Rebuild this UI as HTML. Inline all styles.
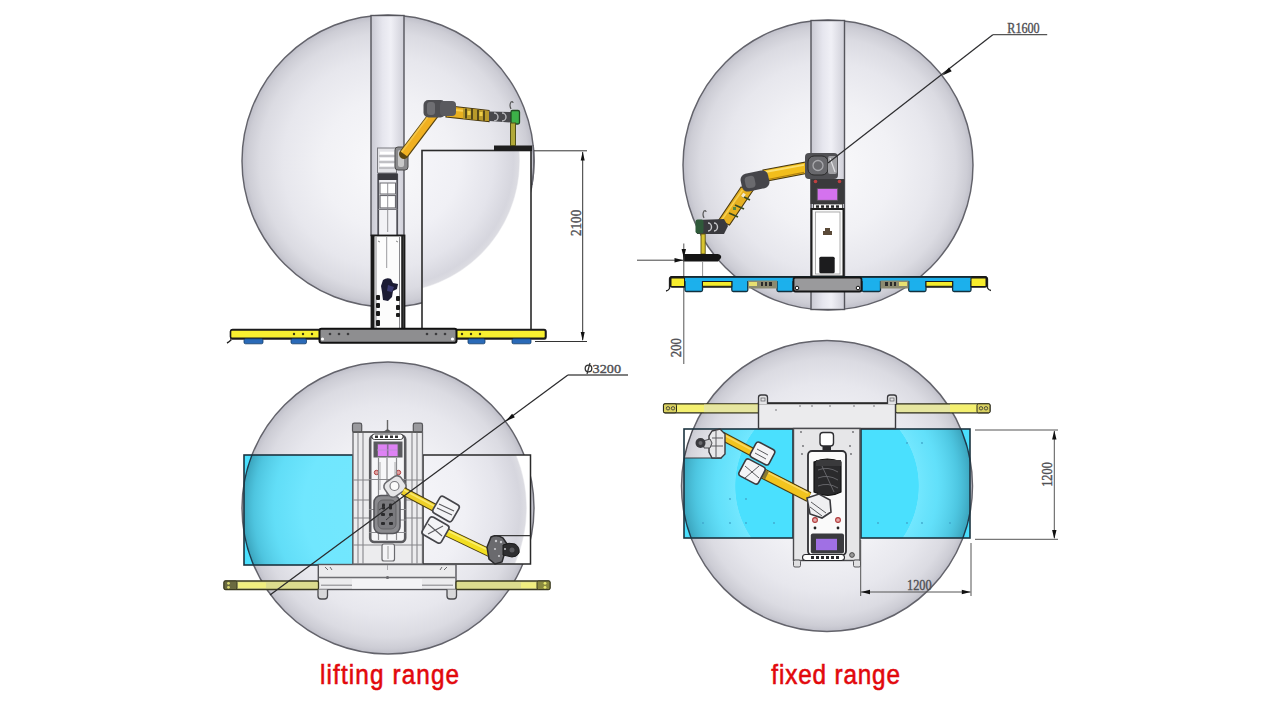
<!DOCTYPE html>
<html><head><meta charset="utf-8"><title>Robot working range</title>
<style>
html,body{margin:0;padding:0;background:#fff;width:1280px;height:720px;overflow:hidden;}
svg{display:block;position:absolute;left:0;top:0;}
.lbl{font-family:"Liberation Sans",sans-serif;fill:#e2080c;stroke:#e2080c;stroke-width:0.6px;font-size:27px;}
.dim{font-family:"Liberation Serif",serif;fill:#505054;stroke:#505054;stroke-width:0.4px;font-size:12px;}
</style></head>
<body>
<svg width="1280" height="720" viewBox="0 0 1280 720">
<defs>
  <radialGradient id="sph" cx="0.5" cy="0.5" r="0.5" fx="0.5" fy="0.52">
    <stop offset="0" stop-color="#f9f9fb"/>
    <stop offset="0.45" stop-color="#f1f1f5"/>
    <stop offset="0.72" stop-color="#e7e7ed"/>
    <stop offset="0.88" stop-color="#dbdbe2"/>
    <stop offset="0.96" stop-color="#cdcdd5"/>
    <stop offset="1" stop-color="#bfbfc9"/>
  </radialGradient>
  <radialGradient id="shellA" cx="0.5" cy="0.5" r="0.5">
    <stop offset="0" stop-color="#fff" stop-opacity="0.24"/>
    <stop offset="0.58" stop-color="#fff" stop-opacity="0.21"/>
    <stop offset="0.78" stop-color="#c0d4dc" stop-opacity="0.2"/>
    <stop offset="0.92" stop-color="#5a7888" stop-opacity="0.26"/>
    <stop offset="1" stop-color="#1a3444" stop-opacity="0.36"/>
  </radialGradient>
  <radialGradient id="shellB" cx="0.5" cy="0.5" r="0.5">
    <stop offset="0.628" stop-color="#fff" stop-opacity="0"/>
    <stop offset="0.632" stop-color="#fff" stop-opacity="0.22"/>
    <stop offset="0.76" stop-color="#d0e0e8" stop-opacity="0.18"/>
    <stop offset="0.9" stop-color="#5a7888" stop-opacity="0.24"/>
    <stop offset="1" stop-color="#1a3444" stop-opacity="0.36"/>
  </radialGradient>
  <radialGradient id="sphIn" cx="0.5" cy="0.5" r="0.5">
    <stop offset="0" stop-color="#f8f8fb"/>
    <stop offset="0.55" stop-color="#f0f0f5"/>
    <stop offset="0.8" stop-color="#e4e4eb"/>
    <stop offset="0.95" stop-color="#d6d6de"/>
    <stop offset="0.99" stop-color="#dcdce2"/>
    <stop offset="1" stop-color="#f4f4f6"/>
  </radialGradient>
  <clipPath id="cTLt"><rect x="422" y="150.5" width="109" height="180"/></clipPath>
  <clipPath id="cTLt2"><rect x="522" y="145" width="15" height="40"/></clipPath>
  <clipPath id="cBLt"><rect x="423" y="455" width="107.5" height="109"/></clipPath>
  <clipPath id="cNotch"><path d="M684 429 H721 V458 H684Z"/></clipPath>
  <clipPath id="cBL"><rect x="244" y="455" width="109" height="110"/></clipPath>
  <clipPath id="cBR"><rect x="684" y="429" width="109" height="109"/><rect x="861" y="429" width="109" height="109"/></clipPath>
  <linearGradient id="pil" x1="0" x2="1" y1="0" y2="0">
    <stop offset="0" stop-color="#c9c9d2"/>
    <stop offset="0.35" stop-color="#e6e6ee"/>
    <stop offset="0.6" stop-color="#f0f0f6"/>
    <stop offset="1" stop-color="#cfcfd8"/>
  </linearGradient>
  <linearGradient id="yel" x1="0" x2="0" y1="0" y2="1">
    <stop offset="0" stop-color="#f6ec3a"/>
    <stop offset="1" stop-color="#f2e62a"/>
  </linearGradient>
  <linearGradient id="arm" x1="0" x2="0" y1="0" y2="1">
    <stop offset="0" stop-color="#f4c430"/>
    <stop offset="0.5" stop-color="#f0b820"/>
    <stop offset="1" stop-color="#c08a10"/>
  </linearGradient>
</defs>

<!-- ================= TOP LEFT ================= -->
<g id="tl">
  <circle cx="388" cy="161" r="146" fill="url(#sph)" stroke="#63636b" stroke-width="1.45"/>
  <!-- pillar -->
  <rect x="371" y="15.5" width="33" height="220" fill="url(#pil)" stroke="#55555c" stroke-width="1.4"/>
  <!-- lift frame inside pillar -->
  <rect x="378" y="180" width="19.5" height="55" fill="#f2f2f6"/>
  <line x1="378.2" y1="174" x2="378.2" y2="235" stroke="#505058" stroke-width="1.8"/>
  <line x1="397.2" y1="174" x2="397.2" y2="235" stroke="#505058" stroke-width="1.8"/>
  <line x1="378" y1="209.5" x2="397.5" y2="209.5" stroke="#7a7a80" stroke-width="1"/>
  <rect x="378" y="173" width="19.5" height="7" fill="#3a3a40"/>
  <rect x="380" y="183" width="15.5" height="11" fill="#fff" stroke="#6a6a70" stroke-width="1"/>
  <rect x="380" y="195.5" width="15.5" height="12.5" fill="#fff" stroke="#6a6a70" stroke-width="1.2"/>
  <line x1="387.7" y1="183" x2="387.7" y2="232" stroke="#8a8a90" stroke-width="0.9"/>
  <!-- table -->
  <rect x="422" y="150.5" width="109" height="180" fill="#fff"/>
  <circle cx="388" cy="161" r="132" fill="url(#sphIn)" clip-path="url(#cTLt)"/>
  <circle cx="388" cy="161" r="146" fill="none" stroke="#63636b" stroke-width="1.45" clip-path="url(#cTLt2)"/>
  <rect x="422" y="150.5" width="109" height="180" fill="none" stroke="#2a2a2a" stroke-width="1.6"/>
  <rect x="494" y="145.5" width="38" height="5.5" fill="#1e1e1e"/>
  <!-- lower lift box -->
  <rect x="371.5" y="235.5" width="33" height="94" fill="#fcfcfc" stroke="#1a1a1a" stroke-width="1.8"/>
  <line x1="373" y1="236" x2="373" y2="329" stroke="#1a1a1a" stroke-width="3"/>
  <line x1="402.5" y1="236" x2="402.5" y2="329" stroke="#222" stroke-width="2.6"/>
  <line x1="376" y1="237" x2="376" y2="328" stroke="#8a8a8e" stroke-width="1"/>
  <line x1="399.5" y1="237" x2="399.5" y2="328" stroke="#8a8a8e" stroke-width="1"/>
  <line x1="386.7" y1="237" x2="386.7" y2="268" stroke="#9a9a9e" stroke-width="1"/>
  <path d="M378 241 l2 1 M396 241 l2 1" stroke="#888" stroke-width="1"/>
  <path d="M383 280 q4 -3 8 -1 l2 4 l5 1 l-1 5 l-4 2 l-1 6 l-4 4 l-5 -1 l-1 -8 l-1 -6z" fill="#1c1c34"/>
  <path d="M388 285 l6 2 l-2 5 l-5 -1z" fill="#3a3a70"/>
  <g fill="#1a1a1a"><rect x="376" y="295" width="4" height="5" rx="1"/><rect x="376" y="303" width="4" height="5" rx="1"/><rect x="376" y="311" width="4" height="5" rx="1"/><rect x="376" y="320" width="4" height="6" rx="1"/>
  <rect x="396" y="296" width="4" height="5" rx="1"/><rect x="396" y="305" width="4" height="5" rx="1"/><rect x="396" y="313" width="4" height="4" rx="1"/></g>
  <!-- robot base on lift -->
  <rect x="377.5" y="148" width="19" height="25" fill="#e4e4e8" stroke="#7a7a80" stroke-width="1"/>
  <g stroke="#fff" stroke-width="2.6"><line x1="380" y1="153" x2="394" y2="153"/><line x1="380" y1="159" x2="394" y2="159"/><line x1="380" y1="165" x2="394" y2="165"/></g>
  <g stroke="#8a8a90" stroke-width="0.8"><line x1="379" y1="156" x2="395" y2="156"/><line x1="379" y1="162" x2="395" y2="162"/><line x1="379" y1="168" x2="395" y2="168"/></g>
  <!-- robot arm TL -->
  <rect x="395" y="147" width="13" height="23" rx="3" fill="#8a8a8c" stroke="#4a4a4a" stroke-width="1"/>
  <rect x="398" y="150" width="6" height="17" rx="2" fill="#c8c8c8"/>
  <line x1="404" y1="154" x2="435" y2="113" stroke="#5a4510" stroke-width="10" stroke-linecap="round"/>
  <line x1="404" y1="154" x2="435" y2="113" stroke="#f0b020" stroke-width="7.6"/>
  <line x1="401.5" y1="152" x2="431.5" y2="112" stroke="#f8cc50" stroke-width="2" opacity="0.8"/>
  <path d="M446 105.5 L489 110.5 L489 121.5 L446 117Z" fill="#e8b020" stroke="#4a3a10" stroke-width="1.2"/>
  <line x1="446" y1="109" x2="470" y2="111.5" stroke="#fad050" stroke-width="2"/>
  <path d="M463 108 L489 111 L489 121 L463 118.5Z" fill="#b89a2a"/>
  <g stroke="#4a4018" stroke-width="1.8"><line x1="466" y1="108.5" x2="466" y2="118.5"/><line x1="472" y1="109" x2="472" y2="119.5"/><line x1="478" y1="109.8" x2="478" y2="120"/><line x1="484" y1="110.5" x2="484" y2="120.8"/></g>
  <g fill="#f0d048"><rect x="467.5" y="111" width="3" height="4"/><rect x="479.5" y="112" width="3" height="4"/></g>
  <rect x="423.5" y="100" width="22" height="17.5" rx="5" fill="#4e4e52"/>
  <rect x="427" y="102" width="8" height="13" rx="3" fill="#6e6e72"/>
  <rect x="440" y="101" width="16" height="15" rx="4" fill="#5a5a5e"/>
  <path d="M489 111.5 L511 112 L511 122.5 L489 121Z" fill="#48484c"/>
  <path d="M494 113 a4 4 0 0 1 0 8 M502 113 a4 4 0 0 1 0 8" fill="none" stroke="#b8b8bc" stroke-width="1.4"/>
  <rect x="511" y="110.5" width="8.5" height="13.5" rx="1.5" fill="#3cb048" stroke="#234a23" stroke-width="1.3"/>
  <rect x="510.5" y="123" width="5" height="22.5" fill="#b0a838" stroke="#505018" stroke-width="1"/>
  <path d="M511 109 q-2 -4 0 -7 q2 -1 2 1" fill="none" stroke="#555" stroke-width="1.2"/>
  <!-- platform -->
  <path d="M227 343 q2 -1 4 -3 l0 -9 q0 -1.5 1.5 -1.5 L544 329.5 q2 0 2 2 l0 6 q0 1.5 -1.5 1.5 L232 339" fill="none" stroke="#222" stroke-width="1.4"/>
  <rect x="230.5" y="330" width="315" height="8.2" rx="1.5" fill="#f8f030" stroke="#1a1a1a" stroke-width="1.6"/>
  <g fill="#2a6ab8" stroke="#153c66" stroke-width="0.8">
    <rect x="244" y="338.8" width="19" height="5" rx="1.5"/><rect x="291" y="338.8" width="15.5" height="5" rx="1.5"/>
    <rect x="468" y="338.8" width="17" height="5" rx="1.5"/><rect x="512" y="338.8" width="19" height="5" rx="1.5"/>
  </g>
  <g fill="#3a3a10"><circle cx="294" cy="334" r="1.2"/><circle cx="303" cy="334" r="1.2"/><circle cx="312" cy="334" r="1.2"/><circle cx="462" cy="334" r="1.2"/><circle cx="471" cy="334" r="1.2"/><circle cx="480" cy="334" r="1.2"/></g>
  <rect x="319.5" y="328.8" width="137" height="14" rx="2" fill="#8e8e90" stroke="#111" stroke-width="2"/>
  <g fill="#3c3c3e"><circle cx="330" cy="334" r="1.3"/><circle cx="339" cy="334" r="1.3"/><circle cx="348" cy="334" r="1.3"/><circle cx="427" cy="334" r="1.3"/><circle cx="436" cy="334" r="1.3"/><circle cx="445" cy="334" r="1.3"/></g>
  <circle cx="322.5" cy="339" r="1.6" fill="#fff"/><circle cx="452.5" cy="339" r="1.6" fill="#fff"/>
  <!-- dimension 2100 -->
  <g stroke="#333" stroke-width="1">
    <line x1="534" y1="150.8" x2="587" y2="150.8"/>
    <line x1="535" y1="341.5" x2="587" y2="341.5"/>
    <line x1="582.7" y1="152" x2="582.7" y2="340"/>
  </g>
  <path d="M582.7 151.5 l-2 9 l4 0z M582.7 341 l-2 -9 l4 0z" fill="#111"/>
  <text class="dim" transform="translate(580.6 236) rotate(-90)" style="font-size:15px" textLength="26.2" lengthAdjust="spacingAndGlyphs">2100</text>
</g>

<!-- ================= TOP RIGHT ================= -->
<g id="tr">
  <circle cx="828" cy="165" r="145" fill="url(#sph)" stroke="#63636b" stroke-width="1.45"/>
  <rect x="811" y="20.5" width="33.5" height="289" fill="url(#pil)" stroke="#55555c" stroke-width="1.4"/>
  <!-- cabinet -->
  <rect x="810.5" y="179" width="34" height="25" fill="#3a3a3c"/>
  <circle cx="815.5" cy="181.5" r="1.8" fill="#c04040"/><circle cx="839.5" cy="181.5" r="1.8" fill="#c04040"/>
  <rect x="817.2" y="188.6" width="20.5" height="11.7" fill="#d472ee" stroke="#555" stroke-width="0.8"/>
  <rect x="813.4" y="204" width="29" height="5" fill="#f4f4f4" stroke="#333" stroke-width="0.8"/>
  <g fill="#2a2a2a"><rect x="816" y="205.3" width="3" height="2.5"/><rect x="821" y="205.3" width="3" height="2.5"/><rect x="826" y="205.3" width="3" height="2.5"/><rect x="831" y="205.3" width="3" height="2.5"/><rect x="836" y="205.3" width="3" height="2.5"/></g>
  <rect x="811.5" y="209" width="32" height="67.5" fill="#f8f8f8" stroke="#1e1e1e" stroke-width="2"/>
  <rect x="815.5" y="212" width="24.5" height="62" fill="#fff" stroke="#9a9a9a" stroke-width="0.8"/>
  <path d="M825 228 h5 v3 h2 v4 h-9 v-4 h2z" fill="#5a4a38"/>
  <rect x="819.3" y="256.8" width="15.4" height="16.5" rx="1.5" fill="#1c1c1e"/>
  <!-- arm -->
  <path d="M763 170 L806 162 L806 173.5 L763 181.8Z" fill="#f2be1c" stroke="#4a3a10" stroke-width="1.2"/>
  <line x1="765" y1="172" x2="804" y2="164.8" stroke="#fbe070" stroke-width="1.8"/>
  <line x1="765" y1="180" x2="804" y2="172.4" stroke="#b08010" stroke-width="1.2"/>
  <path d="M741 187 L754 189 L729.5 225 L718.5 220.5Z" fill="#e6b020" stroke="#4a3a10" stroke-width="1.1"/>
  <line x1="742.5" y1="190" x2="721" y2="221" stroke="#f6d050" stroke-width="1.5"/>
  <g stroke="#3a4a20" stroke-width="1.8"><line x1="742" y1="196" x2="750" y2="200"/><line x1="735" y1="205" x2="744" y2="209"/><line x1="729" y1="213" x2="738" y2="217"/></g><rect x="741" y="194" width="4" height="3" fill="#f0e8d0" transform="rotate(-55 743 195)"/><rect x="733" y="207" width="3" height="3" fill="#5a8a40"/>
  <rect x="741" y="172" width="28" height="18" rx="6" fill="#45454a" transform="rotate(-12 755 181)"/>
  <rect x="745" y="175" width="10" height="12" rx="4" fill="#6a6a6e" transform="rotate(-12 755 181)"/>
  <path d="M697 220 L724 219 L728 226 L724 234 L697 234Z" fill="#3a3a3e"/>
  <path d="M708 223 a3.5 4 0 0 1 0 8 M714 223 a3.5 4 0 0 1 0 8" fill="none" stroke="#c8c8cc" stroke-width="1.4"/>
  <rect x="695.5" y="219.5" width="8" height="14" rx="2" fill="#2f5a3a"/>
  <path d="M704 218 q-2 -4 0 -7 q2 -1 2 1" fill="none" stroke="#555" stroke-width="1.2"/>
  <rect x="701" y="234" width="4.2" height="20" fill="#d8c430" stroke="#5a5018" stroke-width="0.9"/>
  <rect x="805" y="153" width="33" height="26" rx="4" fill="#505054"/>
  <rect x="808" y="156" width="20" height="19" rx="6" fill="#68686c" stroke="#2a2a2a" stroke-width="1"/>
  <circle cx="818" cy="165.5" r="5" fill="none" stroke="#a8a8ac" stroke-width="1.3"/>
  <rect x="828" y="156" width="9" height="18" rx="2" fill="#a0a0a4"/>
  <line x1="830" y1="158" x2="835" y2="172" stroke="#e0e0e4" stroke-width="1.2"/>
  <!-- tool plate -->
  <path d="M683 254 L718 254 Q722 255 721 258 L718 261.5 L683 261.5Z" fill="#151515"/>
  <line x1="702.6" y1="262" x2="702.6" y2="290" stroke="#777" stroke-width="0.8"/>
  <!-- dimension 200 -->
  <line x1="637" y1="260.2" x2="683" y2="260.2" stroke="#444" stroke-width="1"/>
  <path d="M683.5 260.2 l-9 -2.2 l0 4.4z" fill="#111"/>
  <line x1="683.8" y1="243.5" x2="683.8" y2="364" stroke="#555" stroke-width="1"/>
  <path d="M683.8 258 l-2.2 -9 l4.4 0z" fill="#111"/>
  <text class="dim" transform="translate(681 357.2) rotate(-90)" style="font-size:15px" textLength="19" lengthAdjust="spacingAndGlyphs">200</text>
  <!-- platform -->
  <path d="M666 291 q2.5 -0.5 3.5 -2.5 l0 -9.5 q0 -2 2 -2 L985 277 q2.5 0 2.5 2 l0 9 q1 2 3.5 2.5" fill="none" stroke="#222" stroke-width="1.3"/>
  <rect x="670.5" y="277" width="316" height="10" rx="1.5" fill="#f6ec2c" stroke="#151515" stroke-width="1.5"/>
  <g fill="#1cb0ec" stroke="#12303e" stroke-width="1.3">
    <path d="M685 277.5 h17.5 v12.5 q0 1.5 -1.5 1.5 h-14.5 q-1.5 0 -1.5 -1.5z"/>
    <path d="M731.8 277.5 h16 v12.5 q0 1.5 -1.5 1.5 h-13 q-1.5 0 -1.5 -1.5z"/>
    <path d="M777 277.5 h16 v12.5 q0 1.5 -1.5 1.5 h-13 q-1.5 0 -1.5 -1.5z"/>
    <path d="M862 277.5 h18.5 v12.5 q0 1.5 -1.5 1.5 h-15.5 q-1.5 0 -1.5 -1.5z"/>
    <path d="M908.7 277.5 h17.3 v12.5 q0 1.5 -1.5 1.5 h-14.3 q-1.5 0 -1.5 -1.5z"/>
    <path d="M952.6 277.5 h18.4 v12.5 q0 1.5 -1.5 1.5 h-15.4 q-1.5 0 -1.5 -1.5z"/>
  </g>
  <rect x="684" y="276.5" width="287.5" height="4.6" fill="#1cb0ec"/>
  <line x1="670.5" y1="277" x2="986.5" y2="277" stroke="#151515" stroke-width="1.5"/>
  <g fill="#f6ec2c" stroke="#1a1a1a" stroke-width="1"><rect x="702.5" y="281.5" width="29.3" height="4.8"/><rect x="926" y="281.5" width="26.6" height="4.8"/><rect x="671" y="278" width="13.5" height="8.5"/><rect x="971" y="278" width="15" height="8.5"/></g>
  <g fill="#4a4a40"><rect x="748" y="280.5" width="29" height="8" fill="#8c8a70"/><rect x="880.5" y="280.5" width="28" height="8" fill="#8c8a70"/></g>
  <g fill="#e8e070"><rect x="749" y="282" width="8" height="4"/><rect x="899" y="282" width="8" height="4"/></g>
  <g fill="#2a2a2a"><rect x="761" y="282" width="2" height="4"/><rect x="765" y="282" width="2" height="4"/><rect x="769" y="282" width="3" height="4"/><rect x="885" y="282" width="3" height="4"/><rect x="890" y="282" width="2" height="4"/><rect x="894" y="282" width="2" height="4"/></g>
  <rect x="793.5" y="277.5" width="68" height="14" rx="2" fill="#9a9a9c" stroke="#151515" stroke-width="1.8"/>
  <circle cx="797" cy="288" r="1.8" fill="#fff" stroke="#111" stroke-width="1"/><circle cx="858" cy="288" r="1.8" fill="#fff" stroke="#111" stroke-width="1"/>
  <!-- R1600 leader -->
  <line x1="828" y1="163" x2="992.8" y2="34.7" stroke="#2e2e30" stroke-width="1.25"/>
  <line x1="992.8" y1="34.7" x2="1047.2" y2="34.7" stroke="#555" stroke-width="1.2"/>
  <path d="M942.4 75.6 L951.7 71.2 L949 67.6Z" fill="#111"/>
  <text class="dim" x="1007.3" y="32.8" style="font-size:14.5px" textLength="32.4" lengthAdjust="spacingAndGlyphs">R1600</text>
</g>

<!-- ================= BOTTOM LEFT ================= -->
<g id="bl">
  <circle cx="388" cy="508" r="146" fill="url(#sph)" stroke="#63636b" stroke-width="1.45"/>
  <rect x="244" y="455" width="109" height="110" fill="#4ae0fe"/>
  <circle cx="388" cy="508" r="146" fill="url(#shellA)" clip-path="url(#cBL)"/>
  <circle cx="388" cy="508" r="146" fill="none" stroke="#1e3a4c" stroke-width="1.4" clip-path="url(#cBL)"/>
  <rect x="244" y="455" width="109" height="110" fill="none" stroke="#1c3440" stroke-width="1.6"/>
  <!-- table (translucent) -->
  <rect x="423" y="455" width="107.5" height="109" fill="#fff"/>
  <circle cx="388" cy="508" r="139" fill="url(#sphIn)" clip-path="url(#cBLt)"/>
  <rect x="423" y="455" width="107.5" height="109" fill="none" stroke="#2a2a2a" stroke-width="1.5"/>
  <path d="M494.5 564 V535.6 H530.5" fill="none" stroke="#3a3a3a" stroke-width="1.3"/>
  <!-- bottom plate -->
  <rect x="318.3" y="564.5" width="137.7" height="25" fill="#ebebed" stroke="#55555a" stroke-width="1.4"/>
  <line x1="319" y1="577.5" x2="455.5" y2="577.5" stroke="#6e6e72" stroke-width="1.4"/>
  <line x1="321" y1="585.2" x2="352" y2="585.2" stroke="#8a8a8e" stroke-width="1.1"/>
  <line x1="422" y1="585.2" x2="453" y2="585.2" stroke="#8a8a8e" stroke-width="1.1"/>
  <rect x="352" y="579" width="70" height="9.5" fill="#f4f4f6"/>
  <circle cx="387.5" cy="577.5" r="1.6" fill="#6a6a6e"/>
  <line x1="387.5" y1="565" x2="387.5" y2="570" stroke="#9a9a9e" stroke-width="0.8"/>
  <path d="M318 589.5 v6.5 q0 3 3 3 h3.5 q3 0 3 -3 v-6.5" fill="#d8d8da" stroke="#4a4a4e" stroke-width="1.3"/>
  <path d="M447 589.5 v6.5 q0 3 3 3 h3.5 q3 0 3 -3 v-6.5" fill="#d8d8da" stroke="#4a4a4e" stroke-width="1.3"/>
  <path d="M325 567 l3 3 M330 567 l2 3 M447 567 l-3 3 M442 567 l-2 3" stroke="#6a6a6e" stroke-width="1"/>
  <!-- yellow bars -->
  <rect x="224" y="581" width="94.5" height="8.5" rx="1.5" fill="#dcdc8e" stroke="#3a3a20" stroke-width="1.3"/>
  <rect x="238" y="582.5" width="28" height="5.5" fill="#f0ee80"/>
  <rect x="224" y="581" width="13" height="8.5" rx="1.5" fill="#6a6a40" stroke="#3a3a20" stroke-width="1"/>
  <circle cx="228.5" cy="583.3" r="1.4" fill="#d8d870"/><circle cx="228.5" cy="587.3" r="1.4" fill="#d8d870"/>
  <rect x="456" y="581" width="94" height="8.5" rx="1.5" fill="#dcdc8e" stroke="#3a3a20" stroke-width="1.3"/>
  <rect x="521" y="582.5" width="16" height="5.5" fill="#f0ee80"/>
  <rect x="537" y="581" width="13" height="8.5" rx="1.5" fill="#8a8a40" stroke="#3a3a20" stroke-width="1"/>
  <circle cx="545" cy="583.3" r="1.4" fill="#e8e870"/><circle cx="545" cy="587.3" r="1.4" fill="#e8e870"/>
  <!-- cabinet top view -->
  <rect x="353" y="432" width="69.5" height="132" fill="#ececee" stroke="#6a6a6e" stroke-width="1.3"/>
  <rect x="352.5" y="423.2" width="9.2" height="9" rx="1.8" fill="#9a9a9e" stroke="#555559" stroke-width="1.2"/>
  <rect x="413.3" y="423.2" width="9.2" height="9" rx="1.8" fill="#9a9a9e" stroke="#555559" stroke-width="1.2"/>
  <g stroke="#86868a" stroke-width="1.1">
    <line x1="358" y1="432" x2="358" y2="564"/><line x1="363" y1="432" x2="363" y2="564"/>
    <line x1="412" y1="432" x2="412" y2="564"/><line x1="417" y1="432" x2="417" y2="564"/>
    <line x1="353" y1="480" x2="422" y2="480"/><line x1="353" y1="432" x2="422" y2="432" stroke="#555" stroke-width="1.6"/><line x1="353" y1="500" x2="422" y2="500"/>
    <line x1="353" y1="518" x2="422" y2="518"/><line x1="353" y1="545" x2="422" y2="545"/>
  </g>
  <rect x="370.2" y="435.5" width="35" height="106.5" rx="4" fill="#f6f6f8" stroke="#5a5a5e" stroke-width="2.6"/>
  <rect x="372" y="434" width="31" height="5.5" rx="2.5" fill="#fff" stroke="#333" stroke-width="0.9"/>
  <g fill="#333"><rect x="375" y="435.5" width="3" height="2.5"/><rect x="380" y="435.5" width="3" height="2.5"/><rect x="385" y="435.5" width="3" height="2.5"/><rect x="390" y="435.5" width="3" height="2.5"/><rect x="395" y="435.5" width="3" height="2.5"/></g>
  <line x1="387.5" y1="420" x2="387.5" y2="432" stroke="#666" stroke-width="1.4"/><path d="M383 432 l4.5 -3 l4.5 3z" fill="#555"/>
  <rect x="373.5" y="441.5" width="29" height="16" fill="#5a5a5e"/><rect x="377.5" y="444" width="20.5" height="12.5" fill="#de82f4" stroke="#6a6a6e" stroke-width="0.8"/>
  <line x1="387.7" y1="444" x2="387.7" y2="456.5" stroke="#8a6a9a" stroke-width="1.6"/>
  <line x1="377" y1="450" x2="397" y2="450" stroke="#b890d0" stroke-width="0.8"/>
  <circle cx="376.5" cy="472.5" r="2.2" fill="#e0a0a0" stroke="#b04040" stroke-width="1"/>
  <circle cx="398.5" cy="472.5" r="2.2" fill="#e0a0a0" stroke="#b04040" stroke-width="1"/>
  <line x1="380" y1="462" x2="380" y2="490" stroke="#999" stroke-width="0.8"/><line x1="395" y1="462" x2="395" y2="490" stroke="#999" stroke-width="0.8"/>
  <!-- robot base -->
  <g stroke="#8a8a8e" stroke-width="1.2">
    <line x1="378.5" y1="458" x2="378.5" y2="540"/><line x1="387" y1="458" x2="387" y2="540"/><line x1="396.5" y1="458" x2="396.5" y2="540"/>
    <line x1="369" y1="479.5" x2="406" y2="479.5"/><line x1="369" y1="509.5" x2="406" y2="509.5"/><line x1="369" y1="520" x2="406" y2="520"/><line x1="369" y1="532.5" x2="406" y2="532.5"/>
  </g>
  <rect x="374" y="495.5" width="26" height="38" rx="7" fill="#8a8a8e" stroke="#55555a" stroke-width="1.6"/>
  <rect x="378" y="500" width="18" height="29" rx="5" fill="#7a7a7e" stroke="#5a5a5e" stroke-width="0.8"/>
  <g fill="#2a2a2c"><rect x="382" y="503.5" width="3" height="6" rx="1"/><rect x="389" y="503.5" width="3" height="6" rx="1"/><rect x="381" y="513" width="4" height="3" rx="1"/><rect x="389" y="513" width="4" height="3" rx="1"/><rect x="381" y="522" width="4" height="3" rx="1"/><rect x="389" y="522" width="4" height="3" rx="1"/></g>
  <path d="M379 510 l6 -4 M386 520 l7 -6" stroke="#3a3a3c" stroke-width="1"/>
  <rect x="382" y="544" width="12.5" height="17" rx="2" fill="#f4f4f6" stroke="#6a6a6e" stroke-width="1.2"/>
  <line x1="388" y1="546" x2="388" y2="559" stroke="#888" stroke-width="0.8"/>
  <!-- arm -->
  <rect x="385" y="478" width="20" height="17" rx="5" fill="#e6e6e8" stroke="#6a6a6e" stroke-width="1.6" transform="rotate(-35 395 486.5)"/>
  <circle cx="394.5" cy="486" r="4.5" fill="#fafafa" stroke="#7a7a7e" stroke-width="1.2"/>
  <line x1="403" y1="491" x2="437" y2="509" stroke="#4a3c10" stroke-width="8.5"/>
  <line x1="403" y1="491" x2="437" y2="509" stroke="#eed028" stroke-width="6.5"/>
  <line x1="404" y1="490" x2="435" y2="506.5" stroke="#f8e870" stroke-width="1.5"/>
  <line x1="446" y1="532" x2="492" y2="554" stroke="#4a3c10" stroke-width="8.5"/>
  <line x1="446" y1="532" x2="492" y2="554" stroke="#f2de22" stroke-width="6.5"/>
  <line x1="447" y1="530.5" x2="490" y2="551" stroke="#faee70" stroke-width="1.5"/>
  <rect x="435" y="499.5" width="22" height="19" rx="3" fill="#f4f4f6" stroke="#45454a" stroke-width="1.7" transform="rotate(30 446 509)"/>
  <g stroke="#5a5a5e" stroke-width="1.1"><line x1="439" y1="504" x2="454" y2="511"/><line x1="437" y1="508" x2="452" y2="515"/></g>
  <rect x="424.5" y="520" width="22" height="20" rx="3" fill="#f4f4f6" stroke="#45454a" stroke-width="1.7" transform="rotate(30 435.5 530)"/>
  <g stroke="#5a5a5e" stroke-width="1.1"><line x1="428" y1="524" x2="442" y2="536"/><line x1="428" y1="534" x2="443" y2="526"/></g>
  <path d="M491 537 q6 -3 12 1 l4 6 l-2 8 l-3 10 l-7 2 l-6 -5 l-2 -12z" fill="#6a6a6e" stroke="#2a2a2c" stroke-width="1.5"/>
  <path d="M503 545 q6 -3 12 -1 q5 3 4 9 q-2 4 -7 4 l-9 -2z" fill="#2e2e30" stroke="#1a1a1a" stroke-width="1"/>
  <g fill="#c8c8cc"><circle cx="496" cy="541" r="1.2"/><circle cx="501" cy="542" r="1.2"/><circle cx="495" cy="549" r="1.1"/><circle cx="499" cy="556" r="1.1"/><circle cx="505" cy="549" r="1"/></g>
  <circle cx="512" cy="550" r="2.5" fill="#5a5a5e"/>
  <!-- phi3200 leader -->
  <line x1="270" y1="595" x2="567.9" y2="375" stroke="#2a2a2c" stroke-width="1.25"/>
  <line x1="567.9" y1="375" x2="628" y2="375" stroke="#555" stroke-width="1.3"/>
  <path d="M505.5 421.4 L514.9 417.3 L512.1 413.7Z" fill="#111"/>
  <circle cx="588.5" cy="368.5" r="3.3" fill="none" stroke="#333" stroke-width="1.3"/>
  <line x1="587" y1="374" x2="590" y2="363" stroke="#333" stroke-width="1.2"/>
  <text class="dim" x="592.5" y="372.7" style="font-size:13px" textLength="28.5" lengthAdjust="spacingAndGlyphs">3200</text>
</g>

<!-- ================= BOTTOM RIGHT ================= -->
<g id="br">
  <circle cx="827" cy="486" r="145.5" fill="url(#sph)" stroke="#63636b" stroke-width="1.45"/>
  <rect x="684" y="429" width="109" height="109" fill="#4ae0fe"/>
  <rect x="861" y="429" width="109" height="109" fill="#4ae0fe"/>
  <circle cx="827" cy="486" r="145.5" fill="url(#shellB)" clip-path="url(#cBR)"/>
  <circle cx="827" cy="486" r="145.5" fill="none" stroke="#1e3a4c" stroke-width="1.4" clip-path="url(#cBR)"/>
  <path d="M684 429 H721 V458 H684Z" fill="#fff"/>
  <circle cx="827" cy="486" r="145.5" fill="url(#sph)" fill-opacity="0.85" stroke="#4a4a52" stroke-width="1.4" clip-path="url(#cNotch)"/>
  <path d="M684 458 H721 V430" fill="none" stroke="#3a3a3e" stroke-width="1.2"/>
  <rect x="684" y="429" width="109" height="109" fill="none" stroke="#1c3440" stroke-width="1.6"/>
  <rect x="861" y="429" width="109" height="109" fill="none" stroke="#1c3440" stroke-width="1.6"/>
  <g fill="#40a8cc"><circle cx="703" cy="523" r="0.9"/><circle cx="730" cy="523" r="0.9"/><circle cx="746" cy="523" r="0.9"/><circle cx="774" cy="523" r="0.9"/><circle cx="730" cy="499" r="0.9"/><circle cx="746" cy="499" r="0.9"/>
  <circle cx="878" cy="523" r="0.9"/><circle cx="907" cy="523" r="0.9"/><circle cx="922" cy="523" r="0.9"/><circle cx="950" cy="523" r="0.9"/><circle cx="907" cy="443" r="0.9"/><circle cx="922" cy="443" r="0.9"/></g>
  <!-- yellow bars -->
  <rect x="663.5" y="403.8" width="96" height="9" rx="1.5" fill="#f4f070" stroke="#2a2a18" stroke-width="1.2"/>
  <rect x="704" y="404.5" width="55" height="7.6" fill="#e6e6a0"/>
  <rect x="663.5" y="403.8" width="13" height="9" rx="1.5" fill="#d8d060" stroke="#2a2a18" stroke-width="1"/>
  <circle cx="668" cy="408.3" r="1.7" fill="none" stroke="#333" stroke-width="0.8"/><circle cx="673" cy="408.3" r="1.7" fill="none" stroke="#333" stroke-width="0.8"/>
  <rect x="895.5" y="403.8" width="94.5" height="9" rx="1.5" fill="#e6e6a0" stroke="#2a2a18" stroke-width="1.2"/>
  <rect x="950" y="404.5" width="27" height="7.6" fill="#f4f070"/>
  <rect x="977" y="403.8" width="13" height="9" rx="1.5" fill="#d8d060" stroke="#2a2a18" stroke-width="1"/>
  <circle cx="981" cy="408.3" r="1.7" fill="none" stroke="#333" stroke-width="0.8"/><circle cx="986" cy="408.3" r="1.7" fill="none" stroke="#333" stroke-width="0.8"/>
  <!-- top plate -->
  <rect x="758.5" y="403" width="137" height="25.5" fill="#ebebed" stroke="#3a3a3e" stroke-width="1.4"/>
  <line x1="758" y1="403.3" x2="896" y2="403.3" stroke="#2a2a2a" stroke-width="1.8"/>
  <path d="M758.5 404 V397.5 q0 -2.5 2.5 -2.5 h4 q2.5 0 2.5 2.5 V404" fill="#e4e4e6" stroke="#3a3a3e" stroke-width="1.3"/><rect x="761" y="398" width="4" height="3" fill="none" stroke="#6a6a6e" stroke-width="0.8"/>
  <path d="M887.5 404 V397.5 q0 -2.5 2.5 -2.5 h4 q2.5 0 2.5 2.5 V404" fill="#e4e4e6" stroke="#3a3a3e" stroke-width="1.3"/><rect x="890" y="398" width="4" height="3" fill="none" stroke="#6a6a6e" stroke-width="0.8"/>
  <g fill="#6a6a6e"><circle cx="776" cy="410" r="0.8"/><circle cx="800" cy="406" r="0.8"/><circle cx="812" cy="406" r="0.8"/><circle cx="830" cy="406" r="0.8"/><circle cx="854" cy="406" r="0.8"/><circle cx="874" cy="406" r="0.8"/></g>
  <!-- cabinet -->
  <rect x="793.5" y="428.5" width="66.5" height="132" fill="#e6e6e8" stroke="#4a4a4e" stroke-width="1.4"/>
  <rect x="808" y="451" width="38" height="104" rx="4" fill="#fafafa" stroke="#2e2e32" stroke-width="1.8"/>
  <rect x="820" y="432.5" width="13.5" height="13.5" rx="3" fill="#fff" stroke="#2e2e32" stroke-width="1.4"/>
  <rect x="822.5" y="446" width="8.5" height="5" fill="#2a2a2e"/>
  <g fill="#6a6a6e"><circle cx="801" cy="432" r="0.9"/><circle cx="853" cy="432" r="0.9"/><circle cx="803" cy="446" r="0.9"/><circle cx="850" cy="446" r="0.9"/><circle cx="802" cy="454" r="0.9"/><circle cx="851" cy="454" r="0.9"/></g>
  <path d="M814 462 q13 -6 27 0 l0 30 q-13 7 -27 0z" fill="#2a2a2c" stroke="#111" stroke-width="1.2"/>
  <path d="M816 460 h25 v6 h-25z" fill="#3a3a3c"/>
  <g stroke="#6a6a6e" stroke-width="0.9" fill="none"><path d="M818 470 q10 -4 20 2"/><path d="M818 478 q10 -4 20 2"/><path d="M818 486 q10 -4 20 2"/><line x1="822" y1="466" x2="834" y2="492"/></g>
  <circle cx="815" cy="520" r="2.4" fill="#e6a8a8" stroke="#b03a3a" stroke-width="1.1"/>
  <circle cx="838" cy="520" r="2.4" fill="#e6a8a8" stroke="#b03a3a" stroke-width="1.1"/>
  <circle cx="815" cy="528" r="1.4" fill="#222"/><circle cx="838" cy="528" r="1.4" fill="#222"/>
  <rect x="810.8" y="533.5" width="33.2" height="20" rx="2" fill="#3a3a3e"/>
  <rect x="816" y="538.8" width="21" height="11.4" fill="#a070e4"/>
  <rect x="802.5" y="554.5" width="42" height="6" rx="3" fill="#fff" stroke="#2a2a2e" stroke-width="1.1"/>
  <g fill="#2a2a2e"><rect x="811" y="556" width="3" height="3"/><rect x="816" y="556" width="3" height="3"/><rect x="821" y="556" width="3" height="3"/><rect x="826" y="556" width="3" height="3"/><rect x="831" y="556" width="3" height="3"/><rect x="836" y="556" width="3" height="3"/></g>
  <rect x="793.5" y="560" width="7" height="7" rx="1.5" fill="#e0e0e2" stroke="#5a5a5e" stroke-width="1"/>
  <rect x="853.5" y="560" width="7" height="7" rx="1.5" fill="#e0e0e2" stroke="#5a5a5e" stroke-width="1"/>
  <circle cx="852" cy="555" r="2.4" fill="#999" stroke="#333" stroke-width="0.8"/>
  <!-- arm -->
  <line x1="762" y1="473" x2="809" y2="497" stroke="#4a3a10" stroke-width="10.5"/>
  <line x1="762" y1="473" x2="809" y2="497" stroke="#f2c41e" stroke-width="8.3"/>
  <line x1="764" y1="470.5" x2="808" y2="493" stroke="#fad860" stroke-width="1.8"/>
  <line x1="762" y1="473" x2="767" y2="475.5" stroke="#8a7a30" stroke-width="8.3"/>
  <line x1="722" y1="436" x2="753" y2="452.5" stroke="#4a3a10" stroke-width="9"/>
  <line x1="722" y1="436" x2="753" y2="452.5" stroke="#f2c41e" stroke-width="7"/>
  <line x1="723" y1="434.5" x2="752" y2="450" stroke="#fad860" stroke-width="1.5"/>
  <rect x="752" y="445" width="21" height="17" rx="3" fill="#f4f4f6" stroke="#3a3a3e" stroke-width="1.6" transform="rotate(28 762.5 453.5)"/>
  <g stroke="#5a5a5e" stroke-width="1"><line x1="757" y1="449" x2="768" y2="455"/><line x1="755" y1="453" x2="766" y2="459"/></g>
  <rect x="741" y="462" width="22" height="19" rx="3" fill="#f4f4f6" stroke="#3a3a3e" stroke-width="1.6" transform="rotate(28 752 471.5)"/>
  <g stroke="#5a5a5e" stroke-width="1"><line x1="745" y1="466" x2="759" y2="478"/><line x1="745" y1="478" x2="759" y2="466"/></g>
  <path d="M807 498 l12 -4 l11 6 l1 12 l-9 6 l-12 -4z" fill="#f0f0f2" stroke="#3a3a3e" stroke-width="1.6"/><g stroke="#5a5a5e" stroke-width="1"><line x1="811" y1="502" x2="826" y2="513"/><line x1="810" y1="507" x2="822" y2="516"/></g>
  <path d="M712 431 l8 -2 l5 5 l0 20 l-4 4 l-9 0 l-3 -6 l0 -16z" fill="#e8e8ea" stroke="#3a3a3e" stroke-width="1.4"/>
  <g stroke="#5a5a5e" stroke-width="1"><line x1="712" y1="438" x2="723" y2="438"/><line x1="711" y1="446" x2="723" y2="446"/><line x1="716" y1="431" x2="716" y2="457"/></g>
  <path d="M703 441 l7 -2 l2 4 l-2 5 l-6 0z" fill="#cfcfd2" stroke="#4a4a4e" stroke-width="1"/>
  <circle cx="700.5" cy="443" r="5" fill="#3a3a3e"/><circle cx="700.5" cy="443" r="2" fill="#6a6a6e"/>
  <!-- dimensions -->
  <g stroke="#555" stroke-width="1">
    <line x1="975" y1="430" x2="1058" y2="430"/>
    <line x1="975" y1="539.3" x2="1058" y2="539.3"/>
    <line x1="1054.3" y1="431" x2="1054.3" y2="538"/>
    <line x1="860.7" y1="540" x2="860.7" y2="596"/>
    <line x1="971" y1="543" x2="971" y2="596"/>
    <line x1="861" y1="592" x2="970.5" y2="592"/>
  </g>
  <path d="M1054.3 430.5 l-2.2 9 l4.4 0z M1054.3 539 l-2.2 -9 l4.4 0z M861 592 l9 -2.2 l0 4.4z M970.8 592 l-9 -2.2 l0 4.4z" fill="#111"/>
  <text class="dim" transform="translate(1052 486.8) rotate(-90)" style="font-size:14.5px" textLength="24.6" lengthAdjust="spacingAndGlyphs">1200</text>
  <text class="dim" x="907" y="589.6" style="font-size:14.5px" textLength="24.7" lengthAdjust="spacingAndGlyphs">1200</text>
</g>

<text class="lbl" transform="scale(0.9 1)" x="355.6" y="684" textLength="154.5" lengthAdjust="spacing">lifting range</text>
<text class="lbl" transform="scale(0.9 1)" x="857" y="684" textLength="143" lengthAdjust="spacing">fixed range</text>
</svg>
</body></html>
